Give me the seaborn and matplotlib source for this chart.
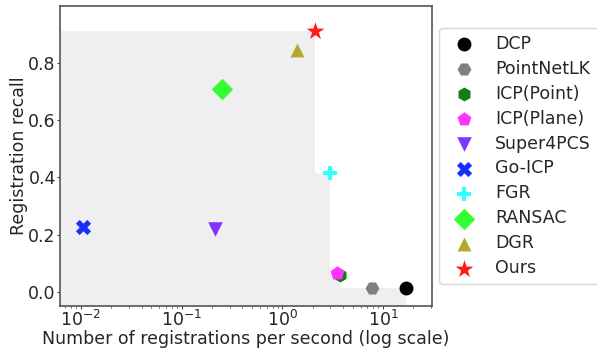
import numpy as np
import pandas as pd
import matplotlib
matplotlib.use('agg')
import seaborn as sns
import matplotlib.pyplot as plt

methods = ["DCP", "PointNetLK", "ICP(Point)", "ICP(Plane)", "Super4PCS",
           "Go-ICP", "FGR", "RANSAC", "DGR", "Ours"]
speed = [16.9, 7.7, 3.73, 3.46, 0.214, 0.0105, 2.97, 0.253, 1.39, 2.11]
recall = [0.012, 0.012, 0.06, 0.067, 0.219, 0.228, 0.417, 0.709, 0.847, 0.911]

colors = ["#000000", "#808080", "#137d13", "#ff33ff", "#8033ff",
          "#1a2eff", "#33ffff", "#33ff33", "#b3a829", "#ff1a1a"]
markers = ["o", "H", "h", "p", "v", "X", "P", "D", "^", "*"]
sizes = [100, 100, 100, 110, 110, 120, 100, 120, 100, 180]

df = pd.DataFrame({"method": methods, "speed": speed, "recall": recall})

sns.set_style("white")
plt.rcParams['font.family'] = ['DejaVu Sans']

fig = plt.figure(figsize=(5.97, 3.48), dpi=100)
ax = fig.add_axes([0.1005, 0.1207, 0.623, 0.862])

xlim = (0.0062, 30.6)
ylim = (-0.05, 1.0)

# pareto frontier: best recall among methods at least this fast
s_sorted = np.sort(np.unique(speed))
front = [max(r for s, r in zip(speed, recall) if s >= si) for si in s_sorted]
fx = np.concatenate([[xlim[0]], s_sorted])
fy = np.concatenate([[front[0]], front])
ax.fill_between(fx, fy, ylim[0], step='pre', color='#efefef', linewidth=0, zorder=0)

for i, m in enumerate(methods):
    sub = df[df["method"] == m]
    sns.scatterplot(data=sub, x="speed", y="recall", color=colors[i],
                    marker=markers[i], s=sizes[i], linewidth=0, label=m,
                    ax=ax, zorder=3)

ax.set_xscale('log')
ax.set_xlim(*xlim)
ax.set_ylim(*ylim)
ax.set_yticks([0.0, 0.2, 0.4, 0.6, 0.8])
ax.set_xlabel("Number of registrations per second (log scale)", fontsize=12.5, labelpad=0)
ax.set_ylabel("Registration recall", fontsize=12.5, labelpad=0)
ax.tick_params(labelsize=12.5, bottom=True, left=True, which='major',
               direction='out', length=2, pad=1, color='#444444')
ax.tick_params(which='minor', bottom=True, length=1.5, color='#444444')
for sp in ax.spines.values():
    sp.set_color('#555555')
    sp.set_linewidth(1.2)

ax.legend(loc='center left', bbox_to_anchor=(1.02, 0.5), fontsize=12.5,
          labelspacing=0.4, markerscale=1.0, frameon=True, borderaxespad=0)

fig.savefig("out.png", dpi=100)
